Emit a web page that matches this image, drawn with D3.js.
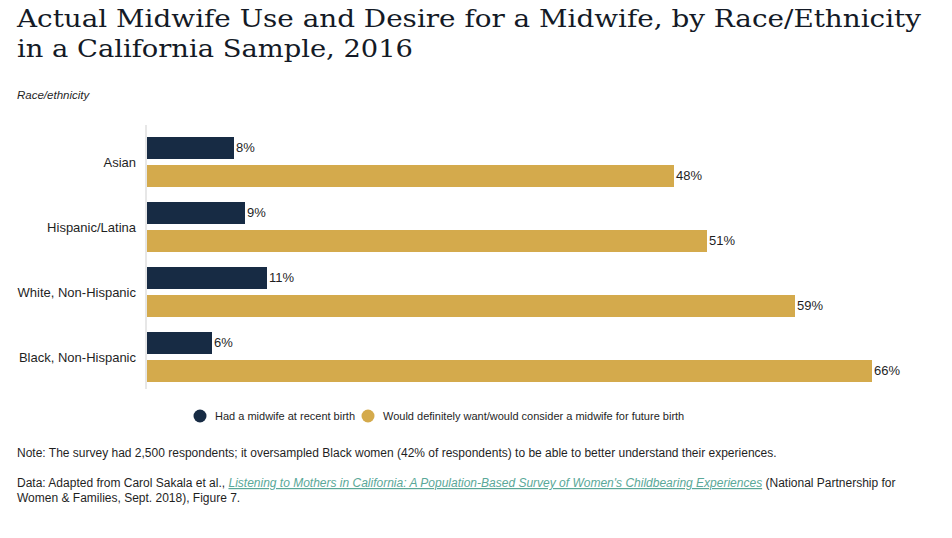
<!DOCTYPE html>
<html>
<head>
<meta charset="utf-8">
<script src="https://cdn.jsdelivr.net/npm/d3@7"></script>
<style>
  body { margin: 0; background: #fff; }
  text { font-family: "Liberation Sans", Arial, sans-serif; fill: #1f1f1f; }
</style>
</head>
<body>
<div id="chart"></div>
<script>
// chart data
var groups = ["Asian", "Hispanic/Latina", "White, Non-Hispanic", "Black, Non-Hispanic"];
var hadMidwife = [8, 9, 11, 6];
var wouldWant = [48, 51, 59, 66];
var seriesNames = ["Had a midwife at recent birth", "Would definitely want/would consider a midwife for future birth"];
var seriesColors = ["#172b44", "#d4aa4c"];

var width = 952, height = 538;

var svg = d3.select("#chart").append("svg")
  .attr("width", width)
  .attr("height", height);

// title, squeezed to the width of the original
var titleLines = ["Actual Midwife Use and Desire for a Midwife, by Race/Ethnicity", "in a California Sample, 2016"];
var titleW = [904, 396];
titleLines.forEach(function(t, i) {
  svg.append("text")
    .attr("x", 17)
    .attr("y", 27 + i * 30)
    .attr("textLength", titleW[i])
    .attr("lengthAdjust", "spacingAndGlyphs")
    .style("font-family", "'DejaVu Serif', 'Liberation Serif', serif")
    .style("font-size", "25px")
    .style("fill", "#141a26")
    .text(t);
});

svg.append("text")
  .attr("x", 17).attr("y", 99)
  .style("font-size", "11.5px")
  .style("font-style", "italic")
  .text("Race/ethnicity");

// scales
var x = d3.scaleLinear().domain([0, 66]).range([146, 872]);
var y = d3.scaleBand().domain(groups).range([130, 390]).paddingInner(0).paddingOuter(0);
var barH = 22, gap = 6;

// axis line
svg.append("line")
  .attr("x1", x(0)).attr("x2", x(0))
  .attr("y1", 125).attr("y2", 389)
  .attr("stroke", "#cfcfcf").attr("stroke-width", 1);

var rows = svg.selectAll(".row")
  .data(groups)
  .enter().append("g")
  .attr("class", "row")
  .attr("transform", function(d) { return "translate(0," + (y(d) + 7) + ")"; });

rows.append("text")
  .attr("x", 136)
  .attr("y", barH + gap / 2)
  .attr("dy", "0.35em")
  .attr("text-anchor", "end")
  .style("font-size", "13px")
  .text(function(d) { return d; });

[hadMidwife, wouldWant].forEach(function(vals, s) {
  rows.append("rect")
    .attr("x", x(0) + 1)
    .attr("y", s * (barH + gap))
    .attr("width", function(d, i) { return x(vals[i]) - x(0) - 1; })
    .attr("height", barH)
    .attr("fill", seriesColors[s]);

  rows.append("text")
    .attr("x", function(d, i) { return x(vals[i]) + 2; })
    .attr("y", s * (barH + gap) + 10)
    .attr("dy", "0.35em")
    .style("font-size", "13px")
    .text(function(d, i) { return vals[i] + "%"; });
});

// legend
var legend = svg.append("g").attr("transform", "translate(0,416)");
var lx = [200, 368];
seriesNames.forEach(function(n, i) {
  legend.append("circle")
    .attr("cx", lx[i]).attr("cy", 0).attr("r", 6.5)
    .attr("fill", seriesColors[i]);
  legend.append("text")
    .attr("x", lx[i] + 15).attr("y", 0)
    .attr("dy", "0.35em")
    .style("font-size", "11px")
    .text(n);
});

// notes
svg.append("text")
  .attr("x", 17).attr("y", 457)
  .style("font-size", "12px")
  .text("Note: The survey had 2,500 respondents; it oversampled Black women (42% of respondents) to be able to better understand their experiences.");

var src = svg.append("text")
  .attr("x", 17).attr("y", 487)
  .style("font-size", "12px");
src.append("tspan").text("Data: Adapted from Carol Sakala et al., ");
src.append("tspan")
  .style("font-style", "italic")
  .style("text-decoration", "underline")
  .style("fill", "#5aa898")
  .text("Listening to Mothers in California: A Population-Based Survey of Women's Childbearing Experiences");
src.append("tspan").text(" (National Partnership for");

svg.append("text")
  .attr("x", 17).attr("y", 502)
  .style("font-size", "12px")
  .text("Women & Families, Sept. 2018), Figure 7.");
</script>
</body>
</html>
